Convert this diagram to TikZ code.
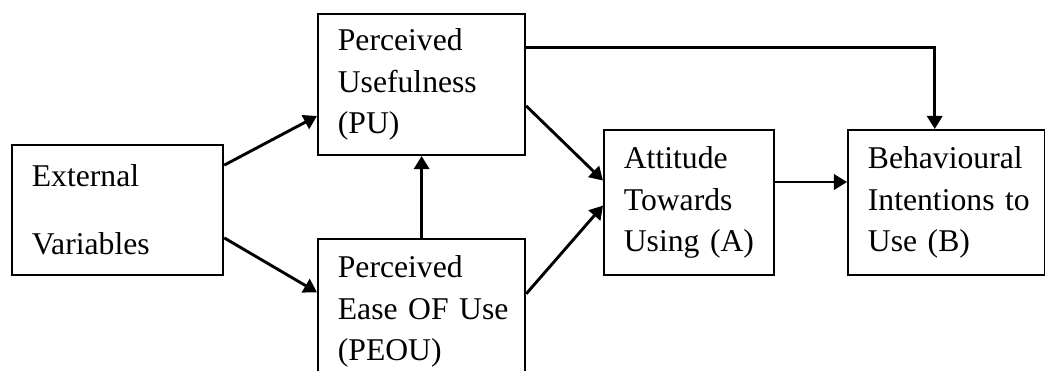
\documentclass[tikz,border=0pt]{standalone}
\usepackage{fontspec}
\setmainfont{Liberation Serif}[WordSpace=0.75]
\usetikzlibrary{arrows.meta,positioning,calc}

\begin{document}
\begin{tikzpicture}[
    x=0.379pt, y=-0.379pt,
    box/.style={draw, line width=0.8pt, align=left, inner xsep=7.5pt, inner ysep=0pt, font=\fontsize{12}{15.7}\selectfont},
    arrow/.style={-{Triangle[length=5pt,width=5.8pt]}, line width=1.1pt}
]
\useasboundingbox (0,0) rectangle (1045,370);
\node[box, anchor=north west, text width=65pt, minimum height=49.3pt] (ext) at (11,144) {External\\[10.1pt]Variables};
\node[box, anchor=north west, text width=63.5pt, minimum height=53.4pt] (pu) at (317,13) {Perceived\\Usefulness\\(PU)};
\node[box, below=31pt of pu, text width=63.5pt, minimum height=55pt] (peou) {Perceived\\\mbox{Ease OF Use}\\(PEOU)};
\node[box, anchor=north west, text width=49.4pt, minimum height=55pt] (att) at (603,129) {Attitude\\Towards\\\mbox{Using (A)}};
\node[box, right=27.3pt of att, text width=59.7pt, minimum height=55pt] (behav) {Behavioural\\\mbox{Intentions to}\\\mbox{Use (B)}};
\draw[arrow] ($(ext.north east)!0.16!(ext.south east)$) -- ($(pu.north west)!0.72!(pu.south west)$);
\draw[arrow] ($(ext.north east)!0.71!(ext.south east)$) -- ($(peou.north west)!0.37!(peou.south west)$);
\draw[arrow] (peou) -- (pu);
\draw[arrow] ($(pu.north east)!0.65!(pu.south east)$) -- ($(att.north west)!0.35!(att.south west)$);
\draw[arrow] ($(peou.north east)!0.38!(peou.south east)$) -- ($(att.north west)!0.52!(att.south west)$);
\draw[arrow] ($(att.north east)!0.36!(att.south east)$) -- ($(behav.north west)!0.36!(behav.south west)$);
\draw[arrow] ($(pu.north east)!0.24!(pu.south east)$) -| ($(behav.north west)!0.44!(behav.north east)$);
\end{tikzpicture}
\end{document}
